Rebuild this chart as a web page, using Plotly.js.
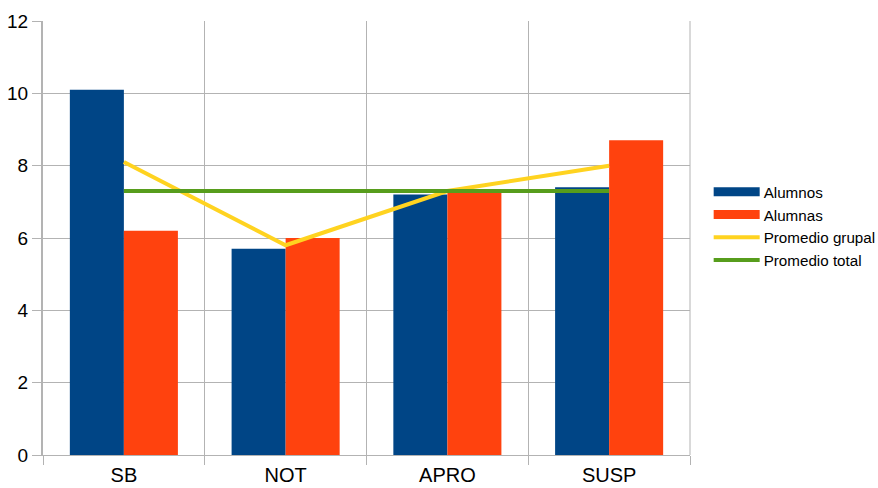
<!DOCTYPE html>
<html>
<head>
<meta charset="utf-8">
<script src="https://cdn.plot.ly/plotly-3.0.1.min.js"></script>
<style>
  html, body { margin: 0; padding: 0; background: #fff; }
  #chart { width: 878px; height: 488px; }
</style>
</head>
<body>
<div id="chart"></div>
<script>
// Grades by category
const categories = ["SB", "NOT", "APRO", "SUSP"];
const alumnos = [10.1, 5.7, 7.2, 7.4];
const alumnas = [6.2, 6.0, 7.3, 8.7];
const promedioGrupal = [8.1, 5.8, 7.3, 8.0];
const promedioTotal = [7.3, 7.3, 7.3, 7.3];
const yTicks = [0, 2, 4, 6, 8, 10, 12];

const gridColor = "#b3b3b3";
const fontFamily = "Liberation Sans, Arial, sans-serif";

const traces = [
  { type: "bar", name: "Alumnos", x: categories, y: alumnos,
    marker: { color: "#004586" } },
  { type: "bar", name: "Alumnas", x: categories, y: alumnas,
    marker: { color: "#ff420e" } },
  { type: "scatter", mode: "lines", name: "Promedio grupal", x: categories, y: promedioGrupal,
    line: { color: "#ffd320", width: 4 } },
  { type: "scatter", mode: "lines", name: "Promedio total", x: categories, y: promedioTotal,
    line: { color: "#579d1c", width: 4 } }
];

const layout = {
  width: 878, height: 488,
  margin: { l: 43, r: 188, t: 21, b: 33 },
  paper_bgcolor: "#fff", plot_bgcolor: "#fff",
  font: { family: fontFamily, color: "#000" },
  barmode: "group", bargap: 0.332, bargroupgap: 0,
  showlegend: true,
  legend: {
    xref: "container", yref: "container",
    x: 0.8117, y: 0.536, xanchor: "left", yanchor: "middle",
    font: { size: 15.2, family: fontFamily, color: "#000" },
    traceorder: "normal", itemwidth: 41
  },
  xaxis: {
    type: "category",
    tickson: "boundaries",
    ticks: "outside", ticklen: 9, tickcolor: gridColor, tickwidth: 1,
    showgrid: true, gridcolor: gridColor, gridwidth: 1,
    showline: true, linecolor: gridColor, linewidth: 1, mirror: false,
    ticklabelstandoff: 2,
    tickfont: { size: 20, family: fontFamily, color: "#000" }
  },
  yaxis: {
    range: [0, 12],
    tickvals: yTicks, ticktext: yTicks.map(String),
    ticks: "outside", ticklen: 9, tickcolor: gridColor,
    showgrid: true, gridcolor: gridColor, gridwidth: 1,
    showline: true, linecolor: gridColor, linewidth: 2,
    zeroline: false,
    tickfont: { size: 19, family: fontFamily, color: "#000" }
  },
  shapes: [
    { type: "line", xref: "paper", yref: "paper", x0: 1, x1: 1, y0: 0, y1: 1,
      line: { color: gridColor, width: 1 }, layer: "below" }
  ]
};

// Legend keys drawn as wide strips: bars as thick bands, lines as thin ones
function restyleLegendKeys() {
  document.querySelectorAll("#chart .legend .traces").forEach(function (item) {
    const text = item.querySelector("text.legendtext");
    if (!text) return;
    const tx = parseFloat(text.getAttribute("x")) || 0;
    const x0 = tx - 50, x1 = tx - 4;
    item.querySelectorAll("path.legendbar, .legendpoints path").forEach(function (p) {
      p.removeAttribute("transform");
      p.setAttribute("d", "M" + x0 + ",-4.5H" + x1 + "V4.5H" + x0 + "Z");
      p.style.strokeWidth = "0";
    });
    item.querySelectorAll(".legendlines path").forEach(function (p) {
      p.removeAttribute("transform");
      p.setAttribute("d", "M" + x0 + ",0H" + x1);
    });
  });
}

Plotly.newPlot("chart", traces, layout, { displayModeBar: false, staticPlot: true })
  .then(restyleLegendKeys);
</script>
</body>
</html>
